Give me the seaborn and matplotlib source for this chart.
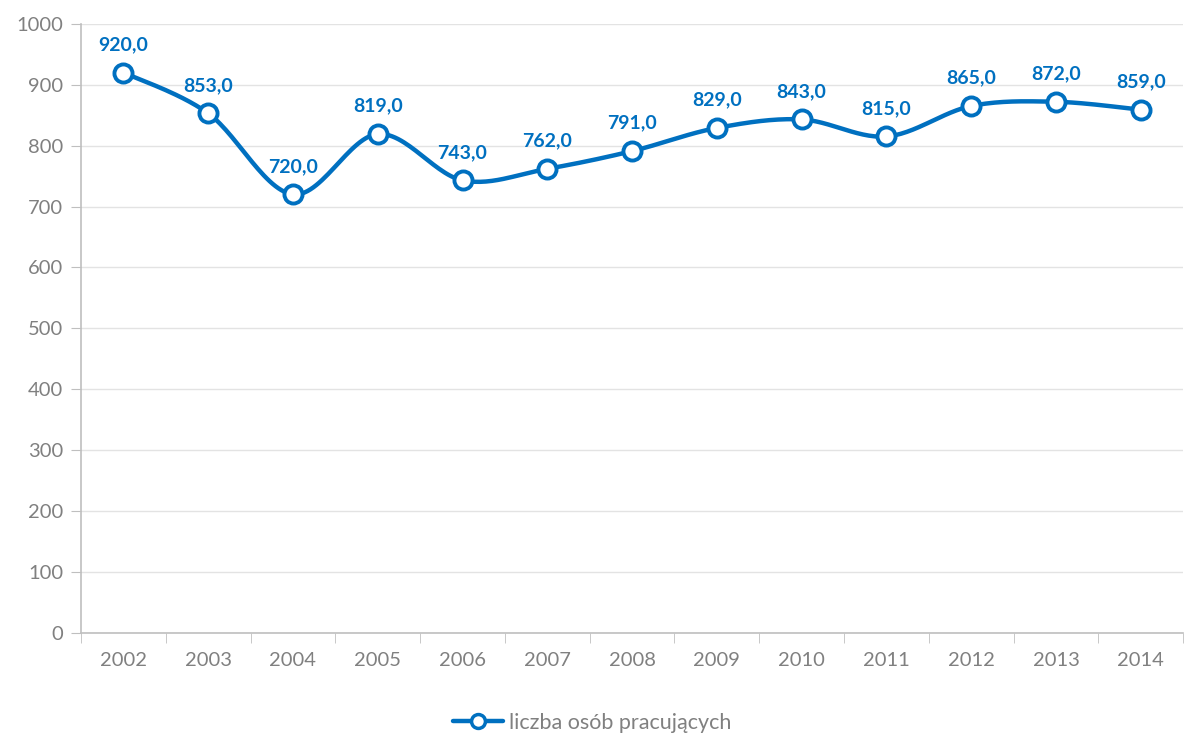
import numpy as np
import pandas as pd
import matplotlib
matplotlib.use('Agg')
import matplotlib.pyplot as plt
import seaborn as sns
from matplotlib.lines import Line2D

years = ['2002', '2003', '2004', '2005', '2006', '2007', '2008',
         '2009', '2010', '2011', '2012', '2013', '2014']
workers = [920.0, 853.0, 720.0, 819.0, 743.0, 762.0, 791.0,
           829.0, 843.0, 815.0, 865.0, 872.0, 859.0]
series_name = 'liczba osób pracujących'

BLUE = '#0070C0'
GRAY = '#808080'

sns.set_style('white')
plt.rcParams['font.family'] = ['Lato', 'DejaVu Sans']

df = pd.DataFrame({'pos': np.arange(len(years)), 'value': workers})


# Excel-like smoothed line (Catmull-Rom through the data points)
def smooth(x, y, steps=30):
    px = np.concatenate([[x[0]], x, [x[-1]]])
    py = np.concatenate([[y[0]], y, [y[-1]]])
    xs, ys = [], []
    t = np.linspace(0, 1, steps)
    for i in range(1, len(px) - 2):
        p0, p1, p2, p3 = [np.array([px[j], py[j]]) for j in (i - 1, i, i + 1, i + 2)]
        c1 = p1 + (p2 - p0) / 6
        c2 = p2 - (p3 - p1) / 6
        pts = ((1 - t) ** 3)[:, None] * p1 + (3 * (1 - t) ** 2 * t)[:, None] * c1 \
            + (3 * (1 - t) * t ** 2)[:, None] * c2 + (t ** 3)[:, None] * p2
        xs.extend(pts[:, 0])
        ys.extend(pts[:, 1])
    return np.array(xs), np.array(ys)


fig = plt.figure(figsize=(11.85, 7.43), dpi=100)
ax = fig.add_axes([0.0684, 0.148, 0.93, 0.82])

sx, sy = smooth(df['pos'].values.astype(float), df['value'].values)
ax.plot(sx, sy, color=BLUE, lw=3.2, zorder=2, solid_capstyle='round')
sns.scatterplot(data=df, x='pos', y='value', ax=ax, s=170, color='white',
                edgecolor=BLUE, linewidth=2.8, zorder=3, legend=False)

for x, v in zip(df['pos'], df['value']):
    ax.annotate(f'{v:.1f}'.replace('.', ','), (x, v), xytext=(0, 14),
                textcoords='offset points', ha='center', va='bottom',
                color=BLUE, fontsize=14, fontweight='bold')

ax.set_xlim(-0.5, len(years) - 0.5)
ax.set_ylim(0, 1000)
ax.set_yticks(np.arange(0, 1001, 100))
ax.set_xticks(df['pos'])
ax.set_xticklabels(years)
ax.set_xticks(np.arange(-0.5, len(years), 1), minor=True)
ax.tick_params(axis='x', which='major', length=0, pad=14, labelsize=14.5, labelcolor=GRAY)
ax.tick_params(axis='x', which='minor', length=7, color='#BFBFBF', direction='out', bottom=True)
ax.tick_params(axis='y', length=7, color='#BFBFBF', direction='out', left=True,
               labelsize=14.5, labelcolor=GRAY, pad=6)
ax.set_xlabel('')
ax.set_ylabel('')
ax.grid(axis='y', color='#E3E3E3', lw=1)
ax.set_axisbelow(True)
for s in ['top', 'right']:
    ax.spines[s].set_visible(False)
for s in ['left', 'bottom']:
    ax.spines[s].set_color('#BFBFBF')
    ax.spines[s].set_linewidth(1.2)

handle = Line2D([0], [0], color=BLUE, lw=3.2, marker='o', markersize=10,
                markerfacecolor='white', markeredgecolor=BLUE, markeredgewidth=2.5)
leg = fig.legend([handle], [series_name], loc='lower center', bbox_to_anchor=(0.5, -0.012),
                 frameon=False, fontsize=15.5, handlelength=2.3, handletextpad=0.3)
for t in leg.get_texts():
    t.set_color(GRAY)

fig.savefig('out.png', dpi=100)
